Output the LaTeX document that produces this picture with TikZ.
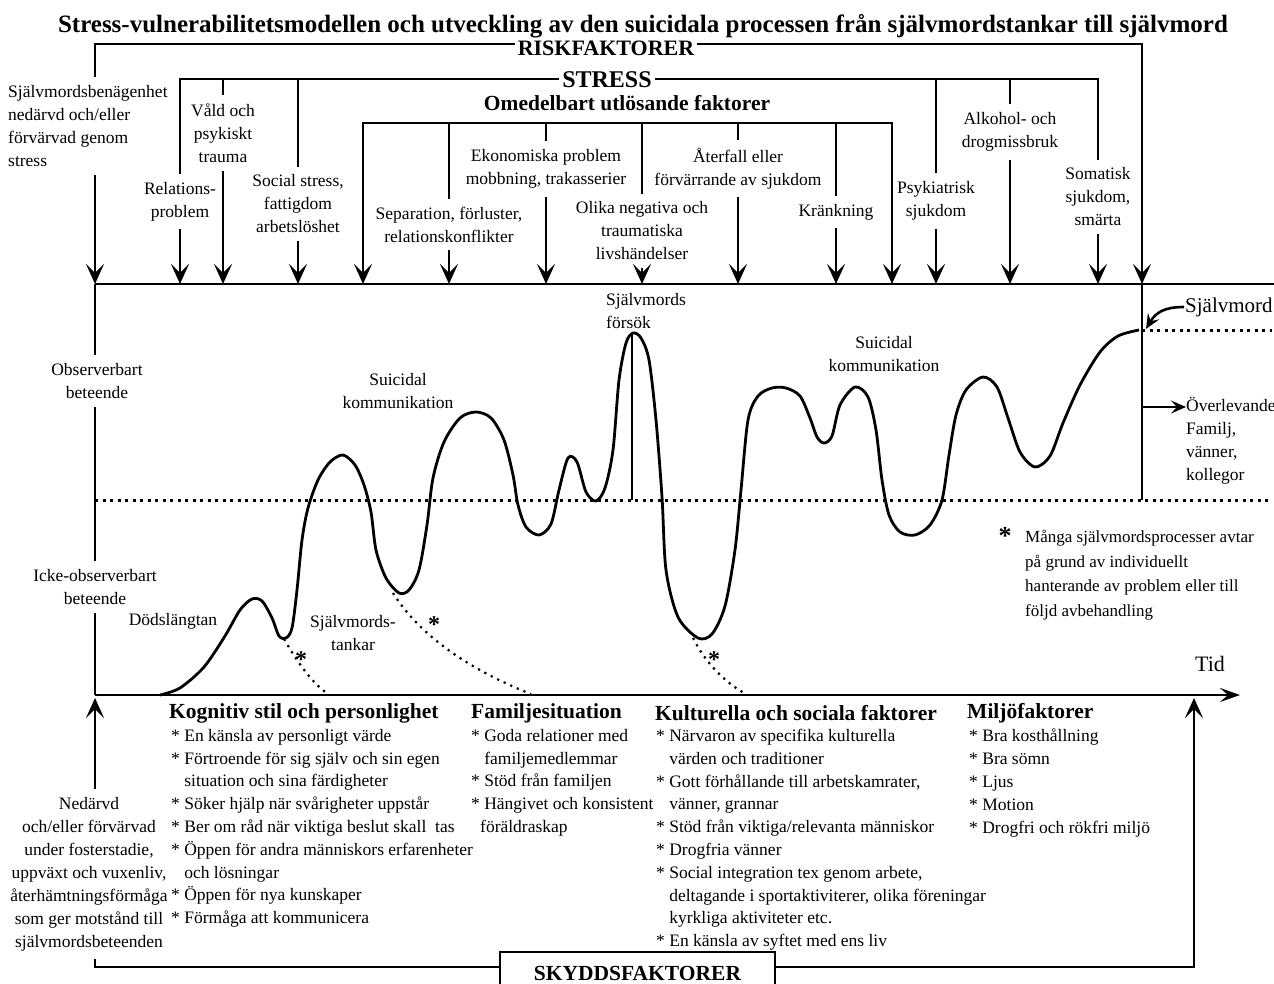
\documentclass[tikz,border=0pt]{standalone}
\usepackage{fontspec}
\setmainfont{Liberation Serif}
\usetikzlibrary{arrows.meta}
\begin{document}
\begin{tikzpicture}[x=1pt,y=-1pt,
  ln/.style={line width=2.8pt},
  arr/.style={line width=2.8pt,-{Stealth[length=20pt,width=18pt,inset=9pt]}},
  sarr/.style={line width=2.6pt,-{Stealth[length=15pt,width=13pt,inset=6pt]}},
  dotl/.style={line width=3pt,dash pattern=on 3pt off 4.5pt},
  decay/.style={line width=2.2pt,dash pattern=on 2.2pt off 5pt},
  lab/.style={font=\fontsize{17.5}{23}\selectfont,align=center,inner xsep=0pt,inner ysep=8pt},
  body/.style={font=\fontsize{17.5}{22.8}\selectfont,align=left,inner sep=0pt,anchor=north west},
  hd/.style={font=\bfseries\fontsize{21.5}{26}\selectfont,inner sep=0pt,anchor=west},
  star/.style={font=\bfseries\fontsize{24}{26}\selectfont,inner sep=0pt},
]
\useasboundingbox (0,0) rectangle (1274,984);

% ---------- coordinates
\coordinate (R) at (0,44);
\coordinate (S) at (0,79);
\coordinate (O) at (0,123);
\coordinate (B) at (0,284);
\coordinate (rL) at (95,44);
\coordinate (rR) at (1142,44);
\coordinate (bL) at (95,284);
\coordinate (bR) at (1274,284);
\coordinate (oL) at (363,123);
\coordinate (oR) at (892,123);
\coordinate (t0) at (95,695);
\coordinate (t1) at (1240,695);
\coordinate (BL) at (0,967);

% ---------- titles
\node[font=\bfseries\fontsize{25}{28}\selectfont,inner sep=0pt] (title) at (643,26)
  {Stress-vulnerabilitetsmodellen och utveckling av den suicidala processen från självmordstankar till självmord};
\node[font=\bfseries\fontsize{22}{26}\selectfont,inner sep=3pt] (risk) at (606,48) {RISKFAKTORER};
\node[font=\bfseries\fontsize{24}{28}\selectfont,inner sep=3pt] (stress) at (607,80) {STRESS};
\node[font=\bfseries\fontsize{21.5}{26}\selectfont,inner sep=2pt] (omed) at (627,103) {Omedelbart utlösande faktorer};

% ---------- risk factor labels
\node[lab,align=left,anchor=west] (sj) at (8,126) {Självmordsbenägenhet\\nedärvd och/eller\\förvärvad genom\\stress};
\node[lab] (rel) at (180,201.5) {Relations-\\problem};
\node[lab] (vald) at (223,133) {Våld och\\psykiskt\\trauma};
\node[lab] (soc) at (298,204) {Social stress,\\fattigdom\\arbetslöshet};
\node[lab] (sep) at (449,224.5) {Separation, förluster,\\relationskonflikter};
\node[lab] (eko) at (546,169) {Ekonomiska problem\\mobbning, trakasserier};
\node[lab] (olika) at (642,231) {Olika negativa och\\traumatiska\\livshändelser};
\node[lab] (ater) at (738,168.5) {Återfall eller\\förvärrande av sjukdom};
\node[lab] (kran) at (836,212) {Kränkning};
\node[lab] (psyk) at (936,201) {Psykiatrisk\\sjukdom};
\node[lab] (alk) at (1010,132) {Alkohol- och\\drogmissbruk};
\node[lab] (som) at (1098,197) {Somatisk\\sjukdom,\\smärta};

% ---------- RISKFAKTORER bracket
\draw[ln] (risk.west |- R) -- (rL) -- (rL |- sj.north);
\draw[arr] (rL |- sj.south) -- (bL);
\draw[arr] (risk.east |- R) -- (rR) -- (rR |- B);

% ---------- STRESS bracket
\draw[ln] (stress.west |- S) -- (rel.north |- S) -- (rel.north);
\draw[ln] (stress.east |- S) -- (som.north |- S) -- (som.north);
\foreach \n in {vald,soc,psyk,alk}{\draw[ln] (\n.north |- S) -- (\n.north);}
\foreach \n in {rel,vald,soc,psyk,alk,som}{\draw[arr] (\n.south) -- (\n.south |- B);}

% ---------- Omedelbart bracket
\draw[ln] (oL) -- (oR);
\draw[arr] (oR) -- (oL) -- (oL |- B);
\draw[arr] (oL) -- (oR) -- (oR |- B);
\foreach \n in {sep,eko,olika,ater,kran}{\draw[ln] (\n.north |- O) -- (\n.north); \draw[arr] (\n.south) -- (\n.south |- B);}

% ---------- base line and axes
\draw[ln] (bL) -- (bR);
\node[lab] (obs) at (97,381) {Observerbart\\beteende};
\node[lab] (ico) at (95,587) {Icke-observerbart\\beteende};
\draw[ln] (bL) -- (bL |- obs.north);
\draw[ln] (bL |- obs.south) -- (bL |- ico.north);
\draw[ln] (bL |- ico.south) -- (t0);
\draw[line width=2.8pt,-{Stealth[length=20pt,width=14pt,inset=8pt]}] (t0) -- (t1);
\node[font=\fontsize{22}{26}\selectfont,inner sep=0pt] (tid) at (1210,664) {Tid};

% ---------- dotted threshold lines
\draw[dotl] (95,500) -- (1272,500);
\draw[ln] (rR |- B) -- (1142,500);
\draw[dotl] (1142,330) -- (1272,330);
\draw[ln] (632,333) -- (632,500);

% ---------- main curve
\draw[ln,line join=round] plot[smooth,tension=0.5] coordinates {
(160,695) (180,688) (204,667) (225,636) (240,610) (252,599) (262,601) (272,618) (279,636) (286,638)
(292,628) (297,590) (302,540) (308,508) (318,480) (330,462) (343,455) (355,465) (364,485) (371,512)
(376,550) (386,578) (399,593) (409,590) (419,570) (427,525) (433,478) (444,442) (460,418) (476,412)
(491,418) (504,440) (513,475) (518,505) (526,527) (539,535) (551,524) (559,490) (568,458) (577,462)
(586,492) (596,501) (605,488) (613,450) (619,380) (626,343) (633,333) (641,338) (649,360) (656,420)
(662,497) (666,570) (678,617) (698,638) (712,634) (725,606) (735,550) (741,490) (748,420) (758,396)
(772,388) (786,388) (800,396) (810,418) (817,437) (824,443) (832,436) (840,405) (855,387) (868,397)
(876,430) (882,480) (889,515) (900,532) (915,535) (930,525) (942,500) (949,455) (956,415) (966,390)
(983,377) (997,387) (1008,418) (1020,452) (1035,467) (1050,456) (1063,423) (1080,385) (1100,352)
(1118,336) (1139,330)};

% ---------- decaying branches
\draw[decay] (284,639) .. controls (298,663) and (312,683) .. (328,694);
\draw[decay] (393,593) .. controls (420,636) and (470,670) .. (531,694);
\draw[decay] (693,638) .. controls (705,662) and (725,683) .. (746,694);
\node[star] (s1) at (301,660) {*};
\node[star] (s2) at (434,625) {*};
\node[star] (s3) at (714,660) {*};

% ---------- curve labels
\node[lab] (dod) at (173,621) {Dödslängtan};
\node[lab] (tank) at (353,633) {Självmords-\\tankar};
\node[lab] (kom1) at (398,391.5) {Suicidal\\kommunikation};
\node[lab,align=left,anchor=west] (fors) at (606,311) {Självmords\\försök};
\node[lab] (kom2) at (884,354.5) {Suicidal\\kommunikation};

% ---------- right side
\node[font=\fontsize{21}{24}\selectfont,anchor=west,inner sep=1pt] (sm) at (1184,307) {Självmord};
\draw[sarr] (sm.west) .. controls (1165,307) and (1156,312) .. (1146,329);
\node[lab,align=left,anchor=west,inner sep=0pt] (over) at (1186,441) {Överlevande\\Familj,\\vänner,\\kollegor};
\coordinate (ov) at (1142,407);
\draw[sarr] (ov) -- (ov -| over.west);

% ---------- footnote
\node[star,font=\bfseries\fontsize{26}{28}\selectfont] (s4) at (1005,536) {*};
\node[font=\fontsize{17}{24.5}\selectfont,align=left,anchor=west,inner sep=0pt] (note) at (1025,575)
  {Många självmordsprocesser avtar\\på grund av individuellt\\hanterande av problem eller till\\följd avbehandling};

% ---------- protective factors
\node[lab] (ned) at (89,874) {Nedärvd\\och/eller förvärvad\\under fosterstadie,\\uppväxt och vuxenliv,\\återhämtningsförmåga\\som ger motstånd till\\självmordsbeteenden};
\draw[arr] (t0 |- ned.north) -- (95,698);
\node[draw,line width=1.6pt,font=\bfseries\fontsize{21.5}{26}\selectfont,minimum width=275pt,minimum height=42pt,inner sep=0pt] (sky) at (637.5,973) {SKYDDSFAKTORER};
\draw[ln] (t0 |- ned.south) -- (t0 |- BL) -- (sky.west |- BL);
\draw[arr] (sky.east |- BL) -- (1194,967) -- (1194,698);

\node[hd] (h1) at (169,713) {Kognitiv stil och personlighet};
\node[hd] (h2) at (471,713) {Familjesituation};
\node[hd] (h3) at (655,713) {Kulturella och sociala faktorer};
\node[hd] (h4) at (967,713) {Miljöfaktorer};

\node[body] (c1) at (171,729) {* En känsla av personligt värde\\
* Förtroende för sig själv och sin egen\\
\phantom{* }situation och sina färdigheter\\
* Söker hjälp när svårigheter uppstår\\
* Ber om råd när viktiga beslut skall\ \ tas\\
* Öppen för andra människors erfarenheter\\
\phantom{* }och lösningar\\
* Öppen för nya kunskaper\\
* Förmåga att kommunicera};
\node[body] (c2) at (471,729) {* Goda relationer med\\
\phantom{* }familjemedlemmar\\
* Stöd från familjen\\
* Hängivet och konsistent\\
\hspace*{9pt}föräldraskap};
\node[body] (c3) at (656,729) {* Närvaron av specifika kulturella\\
\phantom{* }värden och traditioner\\
* Gott förhållande till arbetskamrater,\\
\phantom{* }vänner, grannar\\
* Stöd från viktiga/relevanta människor\\
* Drogfria vänner\\
* Social integration tex genom arbete,\\
\phantom{* }deltagande i sportaktiviterer, olika föreningar\\
\phantom{* }kyrkliga aktiviteter etc.\\
* En känsla av syftet med ens liv};
\node[body] (c4) at (969,729) {* Bra kosthållning\\
* Bra sömn\\
* Ljus\\
* Motion\\
* Drogfri och rökfri miljö};
\end{tikzpicture}
\end{document}
